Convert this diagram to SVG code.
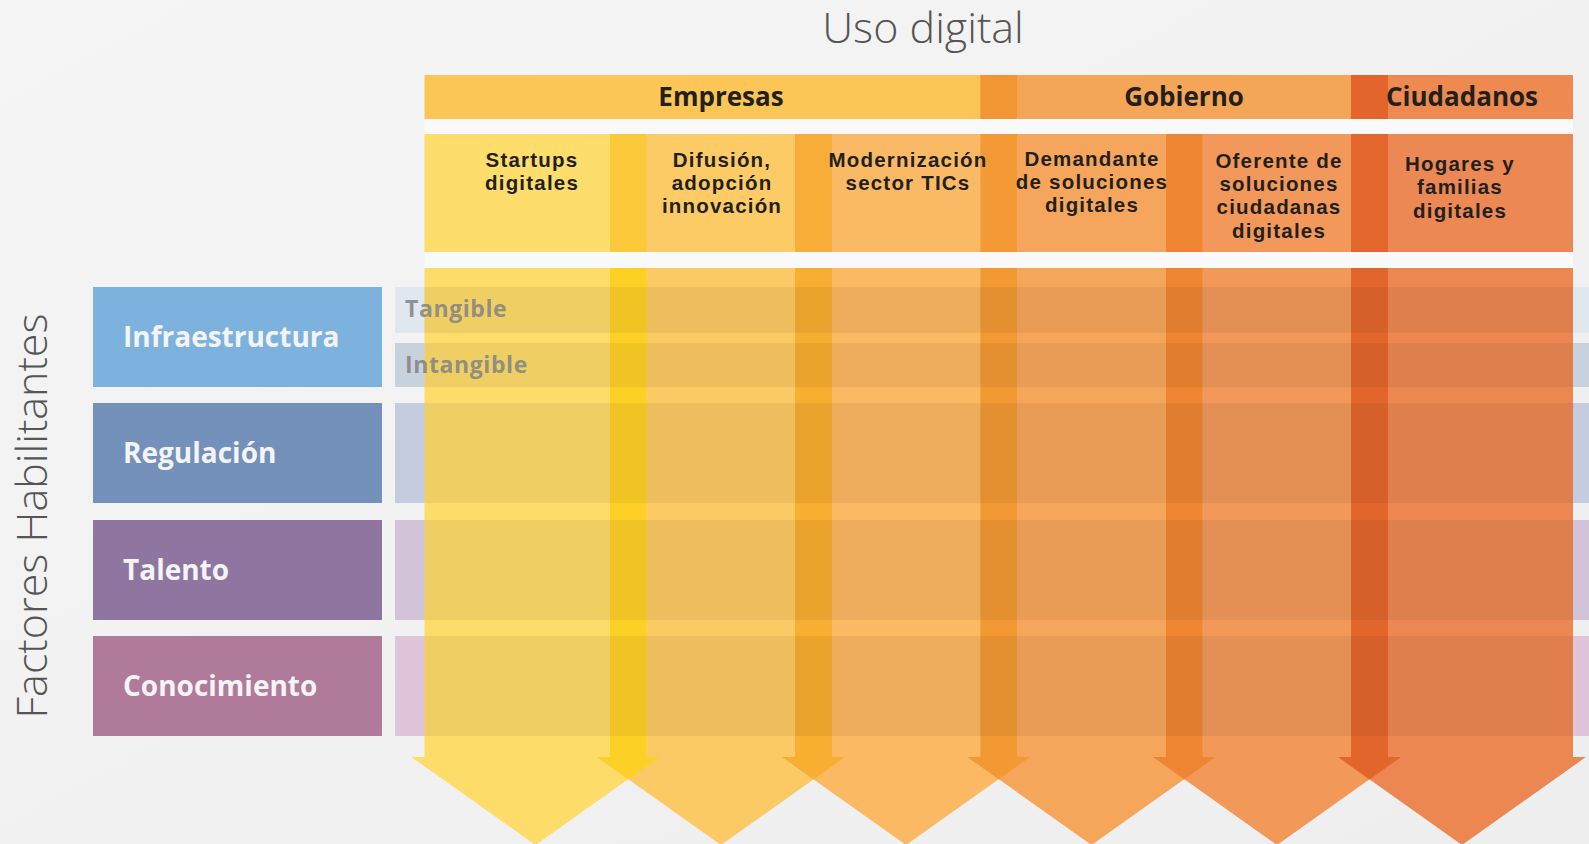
<svg xmlns="http://www.w3.org/2000/svg" width="1589" height="844" viewBox="0 0 1589 844">
<defs>
<linearGradient id="bg" x1="0" y1="0" x2="1" y2="1">
<stop offset="0" stop-color="#F5F5F5"/>
<stop offset="1" stop-color="#EEEEEE"/>
</linearGradient>
</defs>
<style>
.title{font-family:"Open Sans","Liberation Sans",sans-serif;font-weight:300;font-size:43px;fill:#555555}
.grp{font-family:"Open Sans","Liberation Sans",sans-serif;font-weight:700;font-size:26px;fill:#231F1C;text-anchor:middle}
.col{font-family:"Liberation Sans",Arial,sans-serif;font-weight:700;font-size:20.5px;letter-spacing:1.2px;fill:#231F1C;text-anchor:middle}
.lbl{font-family:"Open Sans","Liberation Sans",sans-serif;font-weight:700;font-size:28px;fill:#F4F4F4}
.sub{font-family:"Open Sans","Liberation Sans",sans-serif;font-weight:700;font-size:23px;letter-spacing:0.6px;fill:#858585;fill-opacity:0.9}
.shade{fill:#000000;fill-opacity:0.055}
.gap{fill:#F9F9F9}
</style>
<rect x="0" y="0" width="1589" height="844" fill="url(#bg)"/>

<text class="title" x="923" y="43" text-anchor="middle">Uso digital</text>
<text class="title" transform="translate(47,516) rotate(-90)" text-anchor="middle" font-size="46">Factores Habilitantes</text>

<!-- row bands -->
<g id="bands">
<rect x="395" y="287" width="1194" height="46" fill="#E0E7EF"/>
<rect x="395" y="343" width="1194" height="44" fill="#C8D2DE"/>
<rect x="395" y="403" width="1194" height="100" fill="#C5CCDF"/>
<rect x="395" y="520" width="1194" height="100" fill="#D3C3D9"/>
<rect x="395" y="636" width="1194" height="100" fill="#E0C4DA"/>
</g>

<rect class="gap" x="424.5" y="119" width="1148.5" height="15"/>
<rect class="gap" x="424.5" y="252" width="1148.5" height="16"/>

<!-- header bar -->
<g id="empresas">
<rect x="424.5" y="75" width="592.5" height="44" fill="#FBC655"/>
</g>
<g id="gobierno">
<rect x="980.5" y="75" width="407.5" height="44" fill="#F5A557"/>
</g>
<g id="ciudadanos">
<rect x="1351" y="75" width="222" height="44" fill="#EE8A50"/>
</g>
<rect x="980.5" y="75" width="36.5" height="44" fill="#F29634"/>
<rect x="1351" y="75" width="37" height="44" fill="#E4652C"/>
<text class="grp" x="721" y="106">Empresas</text>
<text class="grp" x="1184" y="106">Gobierno</text>
<text class="grp" x="1462" y="106">Ciudadanos</text>

<!-- columns -->
<g id="col-startups">
<rect x="424.5" y="134" width="222" height="118" fill="#FDDD6C"/>
<polygon points="424.5,268 646.5,268 646.5,757 659.5,757 535.5,845 411.5,757 424.5,757" fill="#FDDC6A"/>
</g>
<g id="col-difusion">
<rect x="610" y="134" width="222" height="118" fill="#FCCB66"/>
<polygon points="610,268 832,268 832,757 845,757 721,845 597,757 610,757" fill="#FCCA64"/>
</g>
<g id="col-modernizacion">
<rect x="795" y="134" width="222" height="118" fill="#FAB964"/>
<polygon points="795,268 1017,268 1017,757 1030,757 906,845 782,757 795,757" fill="#FAB962"/>
</g>
<g id="col-demandante">
<rect x="980.5" y="134" width="222" height="118" fill="#F6A65C"/>
<polygon points="980.5,268 1202.5,268 1202.5,757 1215.5,757 1091.5,845 967.5,757 980.5,757" fill="#F6A65A"/>
</g>
<g id="col-oferente">
<rect x="1166" y="134" width="222" height="118" fill="#F2985A"/>
<polygon points="1166,268 1388,268 1388,757 1401,757 1277,845 1153,757 1166,757" fill="#F29858"/>
</g>
<g id="col-hogares">
<rect x="1351" y="134" width="222" height="118" fill="#EC8854"/>
<polygon points="1351,268 1573,268 1573,757 1586,757 1462,845 1338,757 1351,757" fill="#EC8752"/>
</g>

<!-- overlaps -->
<g id="overlaps">
<rect x="610" y="134" width="36.5" height="118" fill="#FCC93A"/>
<polygon points="610,268 646.5,268 646.5,757 659.5,757 628.25,779.2 597,757 610,757" fill="#FDD026"/>
<rect x="795" y="134" width="37" height="118" fill="#F8AE38"/>
<polygon points="795,268 832,268 832,757 845,757 813.5,779.4 782,757 795,757" fill="#F8AE30"/>
<rect x="980.5" y="134" width="36.5" height="118" fill="#F39A36"/>
<polygon points="980.5,268 1017,268 1017,757 1030,757 998.75,779.2 967.5,757 980.5,757" fill="#F39933"/>
<rect x="1166" y="134" width="36.5" height="118" fill="#EF8633"/>
<polygon points="1166,268 1202.5,268 1202.5,757 1215.5,757 1184.25,779.2 1153,757 1166,757" fill="#EE8532"/>
<rect x="1351" y="134" width="37" height="118" fill="#E3672D"/>
<polygon points="1351,268 1388,268 1388,757 1401,757 1369.5,779.4 1338,757 1351,757" fill="#E2662C"/>
</g>

<!-- row shading over arrows -->
<g id="row-shade">
<rect class="shade" x="424.5" y="287" width="1148.5" height="46"/>
<rect class="shade" x="424.5" y="343" width="1148.5" height="44"/>
<rect class="shade" x="424.5" y="403" width="1148.5" height="100"/>
<rect class="shade" x="424.5" y="520" width="1148.5" height="100"/>
<rect class="shade" x="424.5" y="636" width="1148.5" height="100"/>
</g>

<!-- column header texts -->
<text class="col" x="532" y="166.5">Startups<tspan x="532" y="189.5">digitales</tspan></text>
<text class="col" x="722" y="166.5">Difusión,<tspan x="722" y="189.5">adopción</tspan><tspan x="722" y="212.5">innovación</tspan></text>
<text class="col" x="908" y="166.5">Modernización<tspan x="908" y="189.5">sector TICs</tspan></text>
<text class="col" x="1092" y="165.5">Demandante<tspan x="1092" y="188.5">de soluciones</tspan><tspan x="1092" y="211.5">digitales</tspan></text>
<text class="col" x="1279" y="167.5">Oferente de<tspan x="1279" y="190.5">soluciones</tspan><tspan x="1279" y="214">ciudadanas</tspan><tspan x="1279" y="237.5">digitales</tspan></text>
<text class="col" x="1460" y="170.5">Hogares y<tspan x="1460" y="194">familias</tspan><tspan x="1460" y="217.5">digitales</tspan></text>

<!-- row labels -->
<g id="infraestructura">
<rect x="93" y="287" width="289" height="100" fill="#7DB2DF"/>
<text class="lbl" x="123" y="347">Infraestructura</text>
<text class="sub" x="405" y="317">Tangible</text>
<text class="sub" x="405" y="373">Intangible</text>
</g>
<g id="regulacion">
<rect x="93" y="403" width="289" height="100" fill="#7391BA"/>
<text class="lbl" x="123" y="463">Regulación</text>
</g>
<g id="talento">
<rect x="93" y="520" width="289" height="100" fill="#8F76A0"/>
<text class="lbl" x="123" y="580">Talento</text>
</g>
<g id="conocimiento">
<rect x="93" y="636" width="289" height="100" fill="#B07A9A"/>
<text class="lbl" x="123" y="696">Conocimiento</text>
</g>
</svg>
